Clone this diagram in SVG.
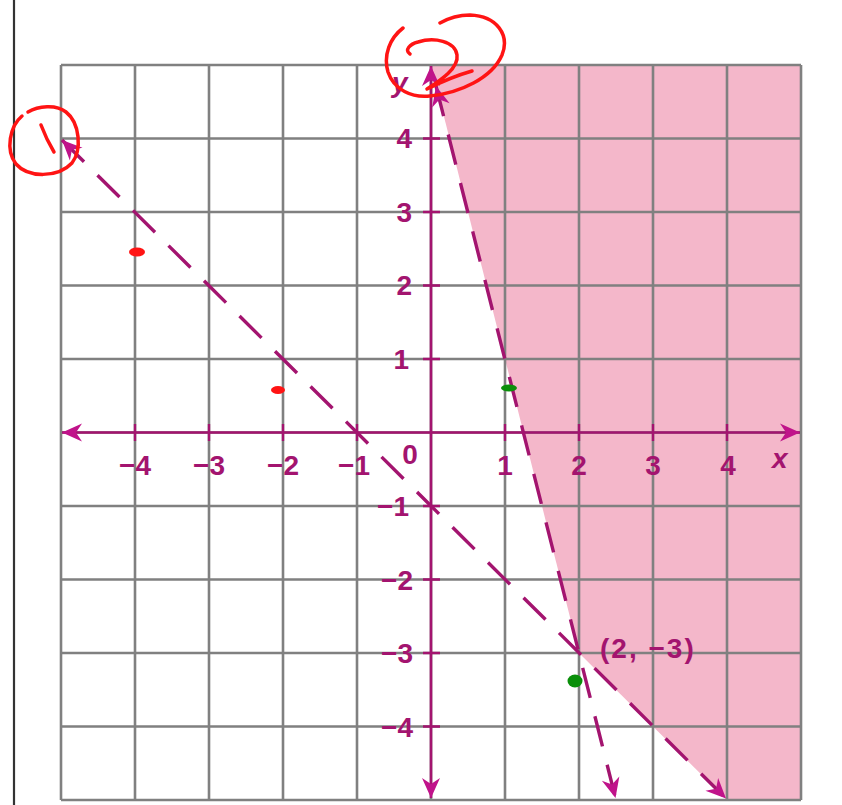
<svg xmlns="http://www.w3.org/2000/svg" width="842" height="805" viewBox="0 0 842 805">
<defs>
<style>
.grid{stroke:#808080;stroke-width:2.6;fill:none}
.axis{stroke:#a3146f;stroke-width:2.6;fill:none}
.tick{stroke:#a3146f;stroke-width:2.4}
.dash{stroke:#a3146f;stroke-width:3.4;fill:none;stroke-dasharray:31 19}
.lbl{font-family:"Liberation Sans",Arial,sans-serif;font-size:28px;font-weight:bold;fill:#a3146f}
.ital{font-family:"Liberation Sans",Arial,sans-serif;font-size:28px;font-style:italic;font-weight:bold;fill:#a3146f}
.ink{stroke:#ff1414;stroke-width:3.5;fill:none;stroke-linecap:round;stroke-linejoin:round}
</style>
<marker id="arr" viewBox="-22 -11 24 22" refX="0" refY="0" markerWidth="24" markerHeight="22" markerUnits="userSpaceOnUse" orient="auto-start-reverse">
<path d="M0,0 L-20,-9 L-14,0 L-20,9 Z" fill="#c0138a"/>
</marker>
</defs>
<rect x="0" y="0" width="842" height="805" fill="#ffffff"/>
<line x1="14" y1="0" x2="14" y2="805" stroke="#333333" stroke-width="2.2"/>

<g id="shading">
<polygon points="431,65 801,65 801,800 727,800 579,653" fill="#f4b7ca"/>
</g>

<g id="grid">
<path class="grid" d="M61,65V800M135,65V800M209,65V800M283,65V800M357,65V800M431,65V800M505,65V800M579,65V800M653,65V800M727,65V800M801,65V800"/>
<path class="grid" d="M61,65H801M61,138.5H801M61,212H801M61,285.5H801M61,359H801M61,432.5H801M61,506H801M61,579.5H801M61,653H801M61,726.5H801M61,800H801"/>
</g>

<g id="connectors">
<line class="axis" x1="62" y1="432.5" x2="800" y2="432.5" marker-start="url(#arr)" marker-end="url(#arr)"/>
<line class="axis" x1="431" y1="66" x2="431" y2="798" marker-start="url(#arr)" marker-end="url(#arr)"/>
<path class="tick" d="M135,424V441M209,424V441M283,424V441M357,424V441M505,424V441M579,424V441M653,424V441M727,424V441"/>
<path class="tick" d="M423,138.5H440M423,212H440M423,285.5H440M423,359H440M423,506H440M423,579.5H440M423,653H440M423,726.5H440"/>
<line id="line1" class="dash" x1="62" y1="140" x2="726" y2="798.5" marker-start="url(#arr)" marker-end="url(#arr)"/>
<line id="line2" class="dash" x1="436" y1="86" x2="615.5" y2="798" marker-start="url(#arr)" marker-end="url(#arr)"/>
</g>

<g id="labels">
<g class="lbl" text-anchor="middle">
<text x="135" y="475">−4</text>
<text x="209" y="475">−3</text>
<text x="283" y="475">−2</text>
<text x="354" y="475">−1</text>
<text x="410" y="464">0</text>
<text x="505" y="475">1</text>
<text x="579" y="475">2</text>
<text x="653" y="475">3</text>
<text x="728" y="475">4</text>
</g>
<g class="lbl" text-anchor="end">
<text x="412" y="148">4</text>
<text x="412" y="222">3</text>
<text x="412" y="295">2</text>
<text x="409" y="369">1</text>
<text x="409" y="516">−1</text>
<text x="413" y="590">−2</text>
<text x="413" y="663">−3</text>
<text x="413" y="737">−4</text>
</g>
<text class="ital" x="392" y="92">y</text>
<text class="ital" x="772" y="468">x</text>
<text class="lbl" x="600" y="658" letter-spacing="2">(2, −3)</text>
</g>

<g id="annotations">
<path class="ink" d="M22,116 C10,126 5,150 16,164 C28,178 58,178 72,163 C82,150 80,123 66,112 C56,104 38,106 28,112"/>
<path class="ink" d="M41,125 C44,133 48,142 54,152"/>
<path class="ink" d="M403,28 C390,38 383,55 388,72 C394,90 412,98 430,96 C460,93 492,78 502,55 C510,35 497,16 470,15 C458,15 447,19 440,23"/>
<path class="ink" d="M410,54 C404,50 410,44 418,42 C434,37 455,41 457,55 C459,68 441,80 427,89 C441,82 458,75 472,71"/>
<ellipse cx="137" cy="252" rx="8" ry="4.5" fill="#ff1414"/>
<ellipse cx="278" cy="390" rx="7" ry="4" fill="#ff1414"/>
<ellipse cx="509" cy="388" rx="8" ry="3.5" fill="#0a8f0a"/>
<ellipse cx="575" cy="681" rx="7.5" ry="6.5" fill="#0a8f0a"/>
</g>
</svg>
